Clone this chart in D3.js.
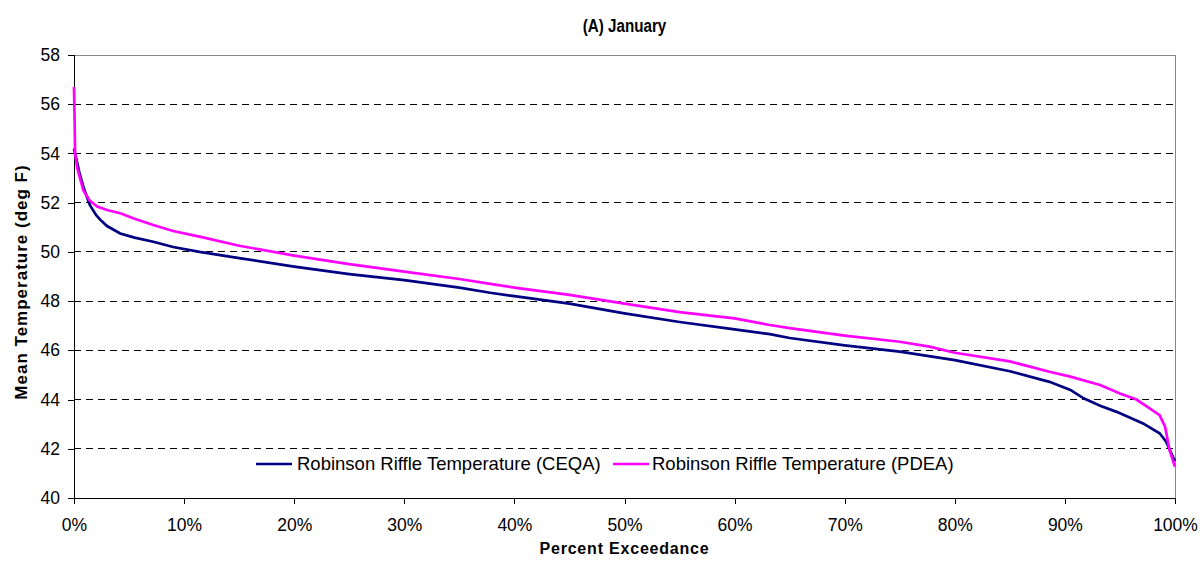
<!DOCTYPE html>
<html><head><meta charset="utf-8">
<script src="https://cdn.jsdelivr.net/npm/d3@7"></script>
<style>body{margin:0;background:#fff}svg{display:block;font-family:"Liberation Sans",Arial,sans-serif}</style>
</head><body><svg id="c" width="1200" height="561"></svg>
<script>
const title = "(A) January";
const xTitle = "Percent Exceedance";
const yTitle = "Mean Temperature (deg F)";
const xTicks = [0,10,20,30,40,50,60,70,80,90,100];
const yTicks = [40,42,44,46,48,50,52,54,56,58];
const seriesNames = ["Robinson Riffle Temperature (CEQA)", "Robinson Riffle Temperature (PDEA)"];
const ceqaPct = [0,0.2,0.5,0.85,1.2,1.45,2.0,2.4,3.0,4.2,5.5,7.2,9,11.4,15,20,25,30,35,37.8,40,45,50,55,60,63.2,65,70,75,80,85,88.6,90.5,91.7,93.2,94.7,97.1,98.6,99.2,99.8,100];
const ceqaVal = [54.2,53.8,53.2,52.65,52.2,51.9,51.5,51.3,51.05,50.75,50.58,50.41,50.2,50.0,49.75,49.4,49.1,48.85,48.55,48.34,48.2,47.9,47.5,47.15,46.85,46.66,46.5,46.2,45.95,45.6,45.15,44.72,44.39,44.05,43.75,43.5,43.03,42.63,42.29,41.68,41.5];
const pdeaPct = [0,0.05,0.1,0.3,0.85,1.4,2.1,3,4.2,5.5,7.2,9,11.4,15,20,25,30,35,37.8,40,45,50,55,60,63.2,65,70,75,77.7,80,85,88.6,90.5,93.2,95,96.5,97.7,98.6,99.1,99.5,100];
const pdeaVal = [56.7,55.5,54.0,53.4,52.5,52.1,51.84,51.7,51.57,51.35,51.09,50.85,50.62,50.25,49.85,49.5,49.2,48.9,48.7,48.55,48.25,47.9,47.55,47.3,47.03,46.9,46.6,46.35,46.15,45.9,45.55,45.13,44.93,44.59,44.25,44.0,43.64,43.37,42.9,41.95,41.27];
const colors = ["#000080", "#FF00FF"];

const svg = d3.select("#c");
const m = {l:74, t:55, r:25, b:63};
const W = 1200, H = 561;
const x = d3.scaleLinear().domain([0,100]).range([m.l, W-m.r]);
const y = d3.scaleLinear().domain([40,58]).range([H-m.b, m.t]);

// gridlines
svg.append("g").selectAll("line").data(yTicks.filter(v=>v>40)).join("line")
  .attr("x1", x(0)).attr("x2", x(100)).attr("y1", d=>y(d)).attr("y2", d=>y(d))
  .attr("stroke", d=>d===58?"#888":"#000").attr("stroke-width",1)
  .attr("stroke-dasharray", d=>d===58?null:"7,5").attr("shape-rendering","crispEdges");
// right border
svg.append("line").attr("x1",x(100)).attr("x2",x(100)).attr("y1",y(58)).attr("y2",y(40))
  .attr("stroke","#888").attr("shape-rendering","crispEdges");

// axes
const yAxis = svg.append("g").attr("transform",`translate(${x(0)},0)`)
  .call(d3.axisLeft(y).tickValues(yTicks).tickSize(6).tickPadding(8));
const xAxis = svg.append("g").attr("transform",`translate(0,${y(40)})`)
  .call(d3.axisBottom(x).tickValues(xTicks).tickFormat(d=>d+"%").tickSize(6).tickPadding(15));
[yAxis,xAxis].forEach(a=>{
  a.selectAll("path,line").attr("stroke","#000").attr("shape-rendering","crispEdges");
  a.selectAll("text").attr("font-size",17.5).attr("fill","#000").attr("font-family","Liberation Sans, Arial, sans-serif");
});

// lines
const line = d3.line().x(d=>x(d[0])).y(d=>y(d[1]));
const data = [d3.zip(ceqaPct, ceqaVal), d3.zip(pdeaPct, pdeaVal)];
svg.append("path").datum(data[0]).attr("d", line).attr("fill","none").attr("stroke",colors[0]).attr("stroke-width",2.7);
svg.append("path").datum(data[1]).attr("d", line).attr("fill","none").attr("stroke",colors[1]).attr("stroke-width",2.7);

// legend
const lg = svg.append("g");
lg.append("rect").attr("x",246).attr("y",451).attr("width",726).attr("height",27).attr("fill","#fff");
const items = [{x:256, tx:297},{x:613, tx:652}];
items.forEach((it,i)=>{
  lg.append("line").attr("x1",it.x).attr("x2",it.x+36).attr("y1",464).attr("y2",464)
    .attr("stroke",colors[i]).attr("stroke-width",2.7);
  lg.append("text").attr("x",it.tx).attr("y",470).attr("font-size",18.5).attr("fill","#000").text(seriesNames[i]);
});

// titles
svg.append("text").attr("transform",`translate(${(x(0)+x(100))/2},32) scale(0.8,1)`).attr("text-anchor","middle")
  .attr("font-size",19).attr("font-weight","bold").text(title);
svg.append("text").attr("x",(x(0)+x(100))/2).attr("y",554).attr("text-anchor","middle")
  .attr("font-size",16).attr("font-weight","bold").attr("letter-spacing",0.8).text(xTitle);
svg.append("text").attr("transform",`translate(27,${282}) rotate(-90)`).attr("text-anchor","middle")
  .attr("font-size",17).attr("font-weight","bold").attr("letter-spacing",1).text(yTitle);
</script></body></html>
